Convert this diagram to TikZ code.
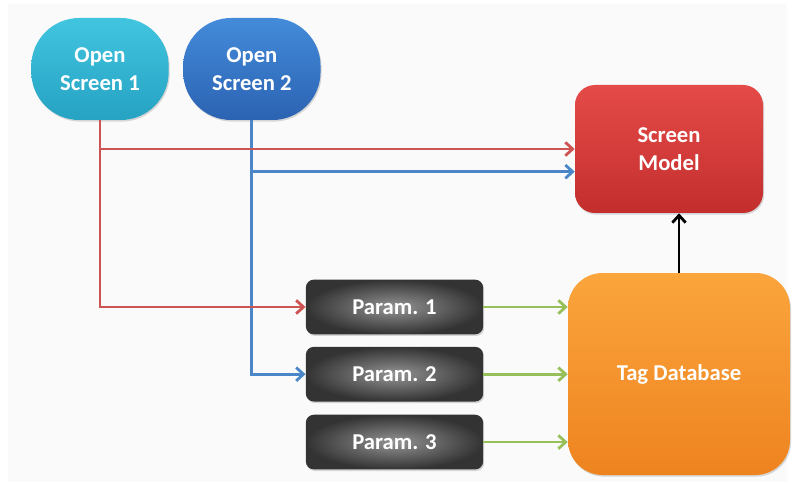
\documentclass[tikz,border=0pt]{standalone}
\usepackage{fontspec}
\setmainfont{Carlito}
\usetikzlibrary{positioning,arrows.meta,shadows}

\definecolor{cyanTop}{HTML}{41C5DF}
\definecolor{cyanBot}{HTML}{26A2C3}
\definecolor{blueTop}{HTML}{438BDA}
\definecolor{blueBot}{HTML}{2B63B2}
\definecolor{redTop}{HTML}{E44B48}
\definecolor{redBot}{HTML}{C32E2D}
\definecolor{orangeTop}{HTML}{FBA53D}
\definecolor{orangeBot}{HTML}{EE831F}
\definecolor{lineRed}{HTML}{CD5452}
\definecolor{lineBlue}{HTML}{4A86C8}
\definecolor{lineGreen}{HTML}{98C05A}
\definecolor{paper}{HTML}{F9FAF9}

\begin{document}
\begin{tikzpicture}[x=0.75pt,y=0.75pt,
    label/.style={text=white,font=\bfseries\fontsize{17}{21}\selectfont,align=center,inner sep=0pt,
      drop shadow={opacity=0.3,shadow xshift=0.8pt,shadow yshift=-1.2pt}},
    screen/.style={label,rounded corners=36pt,minimum width=103pt,minimum height=76.5pt},
    param/.style={label,rounded corners=6pt,minimum width=133pt,minimum height=41pt,
      inner color=black!42,outer color=black!80},
    flow/.style={line width=2.1pt,-{Straight Barb[length=5.5pt,width=10pt]}}]
  \useasboundingbox (0,0) rectangle (795,486);
  \fill[paper] (8,4) rectangle (787,482);

  \node[screen,top color=cyanTop,bottom color=cyanBot] (os1) at (100,417) {Open\\Screen 1};
  \node[screen,top color=blueTop,bottom color=blueBot] (os2) [right=10.5pt of os1] {Open\\Screen 2};
  \node[label,rounded corners=15pt,minimum width=141pt,minimum height=96pt,
        top color=redTop,bottom color=redBot] (model) at (669,337) {Screen\\Model};
  \node[label,rounded corners=26pt,minimum width=166.5pt,minimum height=151.5pt,
        top color=orangeTop,bottom color=orangeBot] (tagdb) at (679,112) {Tag Database};
  \node[param] (p1) at (394.5,179) {Param. 1};
  \node[param] (p2) [below=9pt of p1] {Param. 2};
  \node[param] (p3) [below=9.5pt of p2] {Param. 3};
  \coordinate (mb) at ([yshift=-17pt]model.west);

  \draw[flow,lineBlue] (os2.south) |- (p2.west);
  \draw[flow,lineBlue] (os2.south |- mb) -- (mb);
  \draw[flow,lineRed] (os1.south) |- (p1.west);
  \draw[flow,lineRed] (os1.south |- model.west) -- (model.west);

  \draw[flow,lineGreen] (p1.east) -- (p1.east -| tagdb.west);
  \draw[flow,lineGreen] (p2.east) -- (p2.east -| tagdb.west);
  \draw[flow,lineGreen] (p3.east) -- (p3.east -| tagdb.west);
  \draw[flow,black] (tagdb.north) -- (tagdb.north |- model.south);
\end{tikzpicture}
\end{document}
